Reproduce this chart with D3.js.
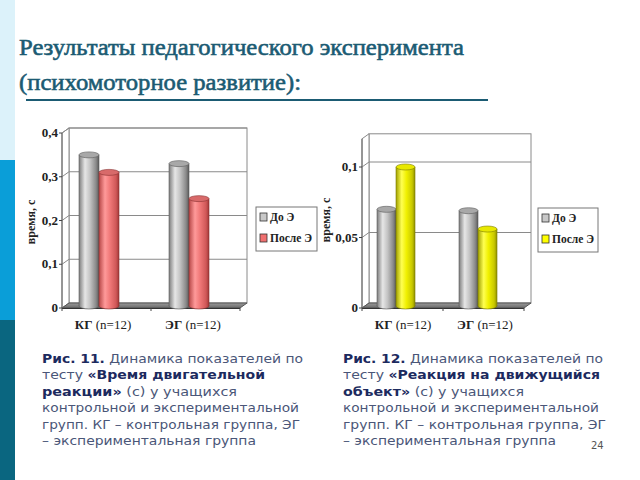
<!DOCTYPE html>
<html><head><meta charset="utf-8">
<script src="https://cdn.jsdelivr.net/npm/d3@7"></script>
<style>html,body{margin:0;padding:0;background:#fff;}svg{display:block;}</style>
</head><body>
<svg id="c" width="640" height="480"></svg>
<script>
// ---- data ----
const titleLines = ["Результаты педагогического эксперимента", "(психомоторное развитие):"];
const categories = ["КГ", "ЭГ"];
const categoryNotes = ["(n=12)", "(n=12)"];
const seriesNames = ["До Э", "После Э"];
const chart1Before = [0.35, 0.33];
const chart1After = [0.31, 0.25];
const chart1Ticks = [0, 0.1, 0.2, 0.3, 0.4];
const chart1TickLabels = ["0", "0,1", "0,2", "0,3", "0,4"];
const chart2Before = [0.07, 0.069];
const chart2After = [0.1, 0.056];
const chart2Ticks = [0, 0.05, 0.1];
const chart2TickLabels = ["0", "0,05", "0,1"];
const yTitle = "время, с";
const caption1 = [
  [["Рис. 11.", "b"], [" Динамика показателей по", "r"]],
  [["тесту ", "r"], ["«Время двигательной", "bb"]],
  [["реакции»", "bb"], [" (с) у учащихся", "r"]],
  [["контрольной и экспериментальной", "r"]],
  [["групп. КГ – контрольная группа, ЭГ", "r"]],
  [["– экспериментальная группа", "r"]]
];
const caption2 = [
  [["Рис. 12.", "b"], [" Динамика показателей по", "r"]],
  [["тесту ", "r"], ["«Реакция на движущийся", "bb"]],
  [["объект»", "bb"], [" (с) у учащихся", "r"]],
  [["контрольной и экспериментальной", "r"]],
  [["групп. КГ – контрольная группа, ЭГ", "r"]],
  [["– экспериментальная группа", "r"]]
];
const pageNumber = "24";

const svg = d3.select("#c");
const defs = svg.append("defs");

// left strip
svg.append("rect").attr("x",0).attr("y",0).attr("width",15).attr("height",160).attr("fill","#dcf2fa");
svg.append("rect").attr("x",0).attr("y",160).attr("width",15).attr("height",160).attr("fill","#0a9ed8");
svg.append("rect").attr("x",0).attr("y",320).attr("width",15).attr("height",160).attr("fill","#0a6680");

// title
const tcol = "#1b5b73";
titleLines.forEach((t,i)=>{
  svg.append("text").attr("x",19).attr("y",[55,90][i]).text(t)
    .attr("font-family","Liberation Serif, serif")
    .attr("font-size",23.5).attr("fill",tcol).attr("stroke",tcol).attr("stroke-width",0.6)
    .attr("textLength",[445,282][i]).attr("lengthAdjust","spacingAndGlyphs");
});
svg.append("line").attr("x1",26).attr("x2",488).attr("y1",100).attr("y2",100)
  .attr("stroke",tcol).attr("stroke-width",2);

// gradients
function cylGrad(id, stops){
  const g = defs.append("linearGradient").attr("id",id).attr("x1","0%").attr("x2","100%");
  stops.forEach(s=>g.append("stop").attr("offset",s[0]).attr("stop-color",s[1]));
}
cylGrad("gGray",[["0%","#7c7c7c"],["30%","#e6e6e6"],["55%","#c4c4c4"],["85%","#8a8a8a"],["100%","#5a5a5a"]]);
cylGrad("gRed",[["0%","#b84848"],["30%","#ff9a9a"],["55%","#f07878"],["85%","#d05858"],["100%","#a03838"]]);
cylGrad("gYel",[["0%","#a0a000"],["30%","#ffff50"],["55%","#f0f000"],["85%","#c8c800"],["100%","#909000"]]);
const floorGrad = defs.append("linearGradient").attr("id","gFloor").attr("x1","0%").attr("x2","0%").attr("y1","0%").attr("y2","100%");
floorGrad.append("stop").attr("offset","0%").attr("stop-color","#9a9a9a");
floorGrad.append("stop").attr("offset","100%").attr("stop-color","#6a6a6a");

function drawChart(o){
  const g = svg.append("g");
  const dx = 7, dy = 5;
  const yF = d3.scaleLinear().domain([0,o.max]).range([o.floorY, o.topY]);
  const yB = v => yF(v) - dy;
  const xL = o.left, xR = o.right;
  // back wall
  g.append("rect").attr("x",xL+dx).attr("y",yB(o.max)).attr("width",xR-xL).attr("height",yB(0)-yB(o.max))
    .attr("fill","#fff").attr("stroke","#8a8a8a").attr("stroke-width",1);
  // side wall
  g.append("path").attr("d",`M${xL},${yF(0)}L${xL},${yF(o.max)}L${xL+dx},${yB(o.max)}L${xL+dx},${yB(0)}Z`)
    .attr("fill","#fff").attr("stroke","#8a8a8a");
  // gridlines
  o.ticks.forEach(t=>{
    if(t===0) return;
    g.append("path").attr("d",`M${xL},${yF(t)}L${xL+dx},${yB(t)}L${xR+dx},${yB(t)}`)
      .attr("fill","none").attr("stroke","#8a8a8a").attr("stroke-width",1);
  });
  // floor
  g.append("path").attr("d",`M${xL},${yF(0)}L${xL+dx},${yB(0)}L${xR+dx},${yB(0)}L${xR},${yF(0)}Z`)
    .attr("fill","url(#gFloor)").attr("stroke","#555");
  g.append("line").attr("x1",xL).attr("x2",xR).attr("y1",yF(0)+0.5).attr("y2",yF(0)+0.5).attr("stroke","#333");
  // value axis line & ticks
  g.append("line").attr("x1",xL).attr("x2",xL).attr("y1",yF(0)).attr("y2",yF(o.max)).attr("stroke","#666");
  o.ticks.forEach((t,i)=>{
    g.append("line").attr("x1",xL-3).attr("x2",xL).attr("y1",yF(t)).attr("y2",yF(t)).attr("stroke","#444");
    g.append("text").attr("x",xL-4).attr("y",yF(t)+4).attr("text-anchor","end")
      .attr("font-family","Liberation Serif, serif").attr("font-weight","bold").attr("font-size",13).attr("fill","#222")
      .text(o.tickLabels[i]);
  });
  // category ticks
  [xL, (xL+xR)/2, xR].forEach(x=>{
    g.append("line").attr("x1",x).attr("x2",x).attr("y1",yF(0)).attr("y2",yF(0)+3).attr("stroke","#444");
  });
  // y title
  g.append("text").attr("transform",`translate(${o.titleX},${o.titleY}) rotate(-90)`)
    .attr("text-anchor","middle").attr("font-family","Liberation Serif, serif").attr("font-weight","bold")
    .attr("font-size",12).attr("fill","#222").text(yTitle);
  // bars
  const xb = d3.scaleBand().domain(categories).range(o.bandRange);
  const xs = d3.scaleBand().domain(seriesNames).range([-o.cw, o.cw]);
  const data = [];
  categories.forEach((c,i)=>{
    data.push({c, s:seriesNames[0], v:o.before[i], fill:"url(#gGray)", top:"#a8a8a8", edge:"#5a5a5a"});
    data.push({c, s:seriesNames[1], v:o.after[i], fill:o.afterFill, top:o.afterTop, edge:o.afterEdge});
  });
  const ry = 3;
  const bx = d => xb(d.c) + xb.bandwidth()/2 + xs(d.s);
  const bottomY = yF(0) - 2;
  const bars = g.selectAll("g.bar").data(data).join("g");
  bars.append("ellipse").attr("cx",d=>bx(d)+xs.bandwidth()/2).attr("cy",bottomY).attr("rx",xs.bandwidth()/2).attr("ry",ry)
    .attr("fill",d=>d.fill).attr("stroke",d=>d.edge).attr("stroke-width",0.6);
  bars.append("rect").attr("x",d=>bx(d)).attr("y",d=>yF(d.v)).attr("width",xs.bandwidth()).attr("height",d=>bottomY-yF(d.v))
    .attr("fill",d=>d.fill);
  bars.append("path").attr("d",d=>`M${bx(d)},${yF(d.v)}V${bottomY}M${bx(d)+xs.bandwidth()},${yF(d.v)}V${bottomY}`)
    .attr("stroke",d=>d.edge).attr("stroke-width",0.6);
  bars.append("ellipse").attr("cx",d=>bx(d)+xs.bandwidth()/2).attr("cy",d=>yF(d.v)).attr("rx",xs.bandwidth()/2).attr("ry",ry)
    .attr("fill",d=>d.top).attr("stroke",d=>d.edge).attr("stroke-width",0.6);
  // category labels
  categories.forEach((c,i)=>{
    const t = g.append("text").attr("x",xb(c)+xb.bandwidth()/2+o.labelShift).attr("y",o.labelY)
      .attr("text-anchor","middle").attr("font-family","Liberation Serif, serif").attr("font-size",13).attr("fill","#222");
    t.append("tspan").attr("font-weight","bold").text(c+" ");
    t.append("tspan").text(categoryNotes[i]);
  });
  // legend
  const L = o.legend;
  g.append("rect").attr("x",L.x).attr("y",L.y).attr("width",L.w).attr("height",L.h)
    .attr("fill","#fff").attr("stroke","#777");
  const fills = ["#c8c8c8", o.legendFill];
  seriesNames.forEach((s,i)=>{
    const yy = L.y + 13 + i*21;
    g.append("rect").attr("x",L.x+4).attr("y",yy-7).attr("width",7).attr("height",8)
      .attr("fill",fills[i]).attr("stroke","#333").attr("stroke-width",0.8);
    g.append("text").attr("x",L.x+14).attr("y",yy+1).attr("font-family","Liberation Serif, serif")
      .attr("font-weight","bold").attr("font-size",11.5).attr("fill","#222").text(s);
  });
}

drawChart({left:62,right:240,floorY:308,topY:133,max:0.4,ticks:chart1Ticks,tickLabels:chart1TickLabels,
  before:chart1Before,after:chart1After,afterFill:"url(#gRed)",afterTop:"#d86a6a",afterEdge:"#8a3030",legendFill:"#f07070",
  bandRange:[54,234],cw:20,labelShift:4,labelY:329,titleX:35,titleY:222,
  legend:{x:256,y:207,w:61,h:44}});
drawChart({left:362,right:524,floorY:308,topY:308-0.12*1410,max:0.12,ticks:chart2Ticks,tickLabels:chart2TickLabels,
  before:chart2Before,after:chart2After,afterFill:"url(#gYel)",afterTop:"#e8e800",afterEdge:"#7a7a00",legendFill:"#ffff00",
  bandRange:[355,519],cw:19,labelShift:7,labelY:329,titleX:330,titleY:220,
  legend:{x:538,y:208,w:60,h:44}});

// captions
function caption(lines, x, ends){
  lines.forEach((parts,i)=>{
    const t = svg.append("text").attr("x",x).attr("y",363+i*16.4)
      .attr("font-family","DejaVu Sans, Verdana, sans-serif").attr("font-size",13)
      .attr("textLength",ends[i]-x).attr("lengthAdjust","spacingAndGlyphs");
    parts.forEach(p=>{
      t.append("tspan").text(p[0])
        .attr("font-weight",p[1]==="r"?"normal":"bold")
        .attr("fill",p[1]==="r"?"#4a5678":"#1c2a5e");
    });
  });
}
caption(caption1, 42, [303,265,237,299,300,256]);
caption(caption2, 343, [603,600,524,599,606,556]);
svg.append("text").attr("x",591).attr("y",449).attr("font-family","DejaVu Sans, Verdana, sans-serif")
  .attr("font-size",10).attr("fill","#555").text(pageNumber);
</script>
</body></html>
